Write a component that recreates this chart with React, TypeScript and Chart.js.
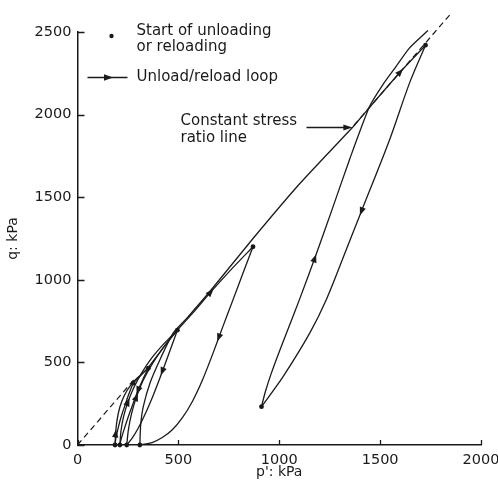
import React, { useEffect, useRef } from "react";
import { Chart, registerables } from "chart.js";

Chart.register(...registerables);

const FONT_FAMILY = "'DejaVu Sans', 'Liberation Sans', sans-serif";
const INK = "#1a1a1a";

// ---- axes ----
const xTicks = [0, 500, 1000, 1500, 2000];
const yTicks = [0, 500, 1000, 1500, 2000, 2500];

// ---- constant stress ratio line (dashed, visible parts) ----
const ratioLowP = [0, 290];
const ratioLowQ = [0, 410];
const ratioHighP = [1370, 1850];
const ratioHighQ = [1935, 2610];

// ---- main loading path ----
const mainLowP = [276, 351, 420, 495, 580, 660, 760, 870];
const mainLowQ = [374, 470, 580, 695, 810, 925, 1060, 1200];
const mainHighP = [1365, 1480, 1600, 1725];
const mainHighQ = [1925, 2090, 2258, 2420];

// ---- small loops ----
const loopAUnloadP = [276, 255, 235, 215, 200, 190, 186];
const loopAUnloadQ = [374, 310, 240, 165, 95, 40, 0];
const loopAReloadP = [186, 189, 196, 210, 232, 262, 300, 351];
const loopAReloadQ = [0, 70, 150, 230, 300, 360, 410, 465];

const loopBUnloadP = [351, 325, 300, 275, 250, 230, 215, 210];
const loopBUnloadQ = [465, 400, 330, 250, 165, 90, 30, 0];
const loopBReloadP = [210, 215, 228, 250, 280, 320, 370, 430, 495];
const loopBReloadQ = [0, 80, 170, 260, 350, 440, 530, 615, 695];

const loopCUnloadP = [495, 470, 440, 410, 375, 340, 300, 270, 244];
const loopCUnloadQ = [695, 610, 510, 410, 300, 200, 100, 40, 0];
const loopCReloadP = [244, 252, 268, 292, 325, 370, 425, 495];
const loopCReloadQ = [0, 90, 190, 290, 390, 490, 590, 695];

// ---- middle loop ----
const midUnloadP = [870, 820, 771, 720, 670, 620, 570, 520, 470, 420, 370, 309];
const midUnloadQ = [1200, 1040, 880, 715, 550, 395, 265, 165, 92, 45, 15, 0];
const midReloadP = [309, 313, 326, 359, 408, 474, 540, 660, 870, 1100, 1365];
const midReloadQ = [0, 120, 232, 374, 515, 677, 765, 935, 1250, 1580, 1925];

// ---- large loop ----
const bigUnloadP = [1725, 1646, 1547, 1407, 1332, 1233, 1151, 1019, 912];
const bigUnloadQ = [2420, 2192, 1848, 1414, 1182, 879, 677, 414, 232];
const bigReloadP = [912, 930, 960, 1000, 1050, 1100, 1176, 1266, 1349, 1448, 1514, 1580, 1646, 1737];
const bigReloadQ = [232, 318, 432, 565, 722, 880, 1130, 1440, 1730, 2050, 2182, 2293, 2404, 2509];

// ---- start of unloading / reloading points ----
const startP = [1725, 912, 870, 309, 276, 351, 495, 186, 210, 244];
const startQ = [2420, 232, 1200, 0, 374, 465, 695, 0, 0, 0];

// ---- direction arrows: at (P,Q) pointing toward (ToP,ToQ) ----
const arrowP = [1407, 1176, 700, 660, 1600, 420, 292, 250, 189, 300];
const arrowQ = [1414, 1130, 650, 925, 2258, 445, 290, 260, 70, 330];
const arrowToP = [1332, 1266, 650, 870, 1725, 375, 325, 280, 196, 275];
const arrowToQ = [1182, 1440, 490, 1200, 2420, 300, 390, 350, 150, 250];

// annotation target on the curve
const annotP = 1360;
const annotQ = 1925;

const pts = (ps: number[], qs: number[]) => ps.map((p, i) => ({ x: p, y: qs[i] }));

function solid(ps: number[], qs: number[], tension = 0.2) {
  return {
    data: pts(ps, qs),
    showLine: true,
    borderColor: INK,
    borderWidth: 1.3,
    pointRadius: 0,
    tension,
    clip: false as any,
  };
}

function dashed(ps: number[], qs: number[]) {
  return {
    data: pts(ps, qs),
    showLine: true,
    borderColor: INK,
    borderWidth: 1.2,
    borderDash: [6, 4],
    pointRadius: 0,
    tension: 0,
    clip: false as any,
  };
}

function drawArrowHead(ctx: CanvasRenderingContext2D, x: number, y: number, ang: number, len = 8, half = 3.2) {
  ctx.save();
  ctx.translate(x, y);
  ctx.rotate(ang);
  ctx.beginPath();
  ctx.moveTo(len / 2, 0);
  ctx.lineTo(-len / 2, -half);
  ctx.lineTo(-len / 2, half);
  ctx.closePath();
  ctx.fill();
  ctx.restore();
}

const decorPlugin = {
  id: "decor",
  afterDatasetsDraw(chart: any) {
    const { ctx, chartArea, scales } = chart;
    const xs = scales.x;
    const ys = scales.y;
    ctx.save();
    ctx.fillStyle = INK;
    ctx.strokeStyle = INK;
    // arrows on curves
    for (let i = 0; i < arrowP.length; i++) {
      const x0 = xs.getPixelForValue(arrowP[i]);
      const y0 = ys.getPixelForValue(arrowQ[i]);
      const x1 = xs.getPixelForValue(arrowToP[i]);
      const y1 = ys.getPixelForValue(arrowToQ[i]);
      drawArrowHead(ctx, x0, y0, Math.atan2(y1 - y0, x1 - x0));
    }
    // inner tick marks
    ctx.lineWidth = 1.3;
    ctx.beginPath();
    for (const v of yTicks) {
      const py = Math.round(ys.getPixelForValue(v)) + 0.5;
      ctx.moveTo(chartArea.left, py);
      ctx.lineTo(chartArea.left + 7, py);
    }
    for (const v of xTicks) {
      const px = Math.round(xs.getPixelForValue(v)) + 0.5;
      ctx.moveTo(px, chartArea.bottom);
      ctx.lineTo(px, chartArea.bottom - 5);
    }
    ctx.stroke();

    // legend
    const L = chartArea.left;
    const T = chartArea.top;
    ctx.font = `15px ${FONT_FAMILY}`;
    ctx.textBaseline = "middle";
    ctx.textAlign = "left";
    ctx.beginPath();
    ctx.arc(L + 34, T + 4, 2.2, 0, Math.PI * 2);
    ctx.fill();
    ctx.fillText("Start of unloading", L + 59, T - 1);
    ctx.fillText("or reloading", L + 59, T + 15);
    ctx.lineWidth = 1.3;
    ctx.beginPath();
    ctx.moveTo(L + 10, T + 45.5);
    ctx.lineTo(L + 50, T + 45.5);
    ctx.stroke();
    drawArrowHead(ctx, L + 31, T + 45.5, 0, 9, 3.2);
    ctx.fillText("Unload/reload loop", L + 59, T + 45);

    // annotation
    ctx.fillText("Constant stress", L + 103, T + 89);
    ctx.fillText("ratio line", L + 103, T + 106);
    const tx = xs.getPixelForValue(annotP);
    const ty = ys.getPixelForValue(annotQ);
    ctx.beginPath();
    ctx.moveTo(L + 229, ty + 0.5);
    ctx.lineTo(tx - 4, ty + 0.5);
    ctx.stroke();
    drawArrowHead(ctx, tx - 4, ty + 0.5, 0, 9, 3);
    ctx.restore();
  },
};

export default function App() {
  const ref = useRef<HTMLCanvasElement | null>(null);
  useEffect(() => {
    if (!ref.current) return;
    const font = { family: FONT_FAMILY, size: 14.5 };
    const chart = new Chart(ref.current, {
      type: "scatter",
      data: {
        datasets: [
          dashed(ratioLowP, ratioLowQ),
          dashed(ratioHighP, ratioHighQ),
          solid(mainLowP, mainLowQ),
          solid(mainHighP, mainHighQ),
          solid(loopAUnloadP, loopAUnloadQ),
          solid(loopAReloadP, loopAReloadQ),
          solid(loopBUnloadP, loopBUnloadQ),
          solid(loopBReloadP, loopBReloadQ),
          solid(loopCUnloadP, loopCUnloadQ),
          solid(loopCReloadP, loopCReloadQ),
          solid(midUnloadP, midUnloadQ),
          solid(midReloadP, midReloadQ),
          solid(bigUnloadP, bigUnloadQ, 0.3),
          solid(bigReloadP, bigReloadQ),
          {
            data: pts(startP, startQ),
            showLine: false,
            pointRadius: 2.4,
            pointBackgroundColor: INK,
            pointBorderWidth: 0,
            clip: false as any,
          },
        ] as any,
      },
      options: {
        animation: false,
        responsive: false,
        layout: { padding: { left: 0, right: 17, top: 32, bottom: 0 } },
        plugins: { legend: { display: false }, tooltip: { enabled: false } },
        scales: {
          x: {
            type: "linear",
            min: 0,
            max: 2000,
            afterFit: (s: any) => {
              s.height = 37;
              s.paddingLeft = 0;
              s.paddingRight = 0;
            },
            grid: { display: false, drawTicks: false },
            border: { display: true, color: INK, width: 1.5 },
            ticks: {
              stepSize: 500,
              padding: 7,
              maxRotation: 0,
              font,
              color: INK,
              callback: (v: any) => String(v),
            },
            title: {
              display: true,
              text: "p': kPa",
              font: { family: FONT_FAMILY, size: 14 },
              color: INK,
              padding: { top: 0, bottom: 1 },
            },
          },
          y: {
            type: "linear",
            min: 0,
            max: 2500,
            afterFit: (s: any) => {
              s.width = 77.5;
              s.paddingTop = 0;
              s.paddingBottom = 0;
            },
            grid: { display: false, drawTicks: false },
            border: { display: true, color: INK, width: 1.5 },
            ticks: {
              stepSize: 500,
              padding: 6,
              font,
              color: INK,
              callback: (v: any) => String(v),
            },
            title: {
              display: true,
              text: "q: kPa",
              font: { family: FONT_FAMILY, size: 14 },
              color: INK,
              padding: { top: 5, bottom: 0 },
            },
          },
        },
      } as any,
      plugins: [decorPlugin],
    });
    return () => chart.destroy();
  }, []);

  return (
    <div style={{ position: "fixed", left: 0, top: 0, width: 498, height: 482, background: "#fff" }}>
      <canvas ref={ref} width={498} height={482} style={{ display: "block" }} />
    </div>
  );
}
